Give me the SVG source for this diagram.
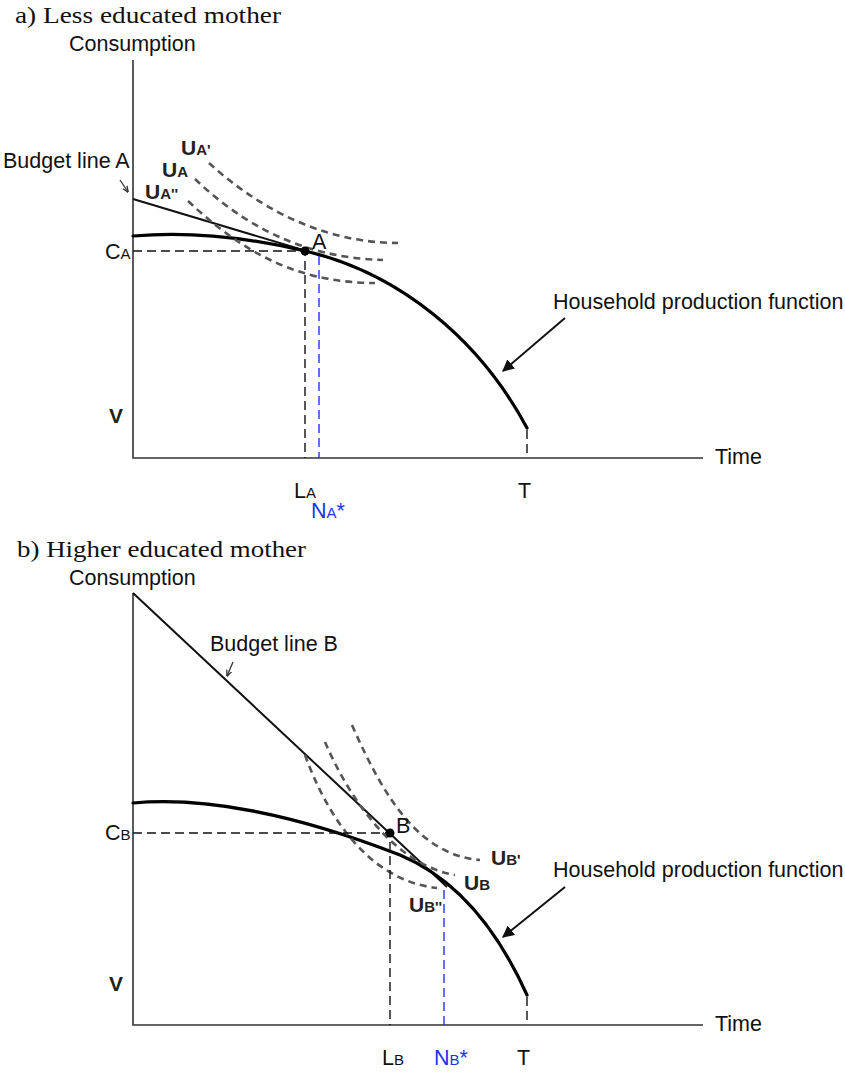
<svg xmlns="http://www.w3.org/2000/svg" width="845" height="1072" viewBox="0 0 845 1072">
<defs>
<style>
.t{font-family:"Liberation Sans",Arial,sans-serif;font-size:21.5px;fill:#111}
.ti{font-family:"Liberation Serif","Times New Roman",serif;font-size:24px;fill:#111}
.u{font-family:"Liberation Sans",Arial,sans-serif;font-size:21px;font-weight:bold;fill:#222}
.s{font-size:15px}
.blue{fill:#2335e8}
.ax{stroke:#333;stroke-width:1.6;fill:none}
.pf{stroke:#000;stroke-width:3.2;fill:none;stroke-linecap:round}
.bl{stroke:#111;stroke-width:2;fill:none}
.ic{stroke:#555;stroke-width:2.6;fill:none;stroke-dasharray:7,5}
.dk{stroke:#111;stroke-width:1.4;fill:none;stroke-dasharray:9,5}
.db{stroke:#2335e8;stroke-width:1.4;fill:none;stroke-dasharray:9,5}
.ar{stroke:#111;stroke-width:2;fill:none}
</style>
<marker id="ah" viewBox="0 0 10 10" refX="9" refY="5" markerWidth="6" markerHeight="6" orient="auto"><path d="M0,0 L10,5 L0,10 z" fill="#111"/></marker>
<marker id="ahs" viewBox="0 0 10 10" refX="9" refY="5" markerWidth="5" markerHeight="5" orient="auto"><path d="M0,1 L10,5 L0,9" fill="none" stroke="#333" stroke-width="2"/></marker>
</defs>
<rect width="845" height="1072" fill="#fff"/>

<g id="panel-a">
<text class="ti" x="15" y="23" textLength="266" lengthAdjust="spacingAndGlyphs">a) Less educated mother</text>
<text class="t" x="69" y="51">Consumption</text>
<path class="ax" d="M133,60 V458 H703"/>
<text class="t" x="715" y="464">Time</text>
<g id="budget-line-a">
<path class="bl" d="M133,199 L330,258"/>
<text class="t" x="3" y="168">Budget line A</text>
</g>
<g id="production-a">
<path class="pf" d="M133,236 C190,231 250,238 305,251 C400,273 480,340 527,428"/>
<text class="t" x="553" y="309">Household production function</text>
</g>
<g id="indiff-a">
<path class="ic" d="M209,163 C255,205 320,243 398,243"/>
<path class="ic" d="M195,179 C240,222 300,258 383,260"/>
<path class="ic" d="M188,201 C235,245 290,283 375,283"/>
<text class="u" x="181" y="155">U<tspan class="s">A'</tspan></text>
<text class="u" x="162" y="177">U<tspan class="s">A</tspan></text>
<text class="u" x="145" y="199">U<tspan class="s">A''</tspan></text>
</g>
<g id="point-a">
<path class="dk" d="M133,251 H305 V458"/>
<path class="db" d="M319,256 V458"/>
<circle cx="305" cy="251" r="4.5" fill="#000"/>
<text class="t" x="312" y="249">A</text>
<text class="t" x="105" y="259">C<tspan class="s">A</tspan></text>
</g>
<path class="dk" d="M527,430 V458"/>
<text class="u" x="109" y="423">V</text>
<text class="t" x="294" y="498">L<tspan class="s">A</tspan></text>
<text class="t blue" x="311" y="518">N<tspan class="s">A</tspan>*</text>
<text class="t" x="518" y="498">T</text>
</g>

<g id="panel-b">
<text class="ti" x="17" y="557" textLength="289" lengthAdjust="spacingAndGlyphs">b) Higher educated mother</text>
<text class="t" x="69" y="585">Consumption</text>
<path class="ax" d="M133,593 V1025 H703"/>
<text class="t" x="715" y="1031">Time</text>
<g id="budget-line-b">
<path class="bl" d="M133,593 L447,887"/>
<text class="t" x="210" y="651">Budget line B</text>
</g>
<g id="production-b">
<path class="pf" d="M133,803 C200,797 290,812 400,855 C460,880 500,935 527,995"/>
<text class="t" x="553" y="877">Household production function</text>
</g>
<g id="indiff-b">
<path class="ic" d="M352,725 C385,800 420,855 480,860"/>
<path class="ic" d="M325,742 C350,800 395,865 455,875"/>
<path class="ic" d="M305,755 C325,810 365,880 437,888"/>
<text class="u" x="491" y="865">U<tspan class="s">B'</tspan></text>
<text class="u" x="464" y="890">U<tspan class="s">B</tspan></text>
<text class="u" x="409" y="912">U<tspan class="s">B''</tspan></text>
</g>
<g id="point-b">
<path class="dk" d="M133,833 H390 V1025"/>
<path class="db" d="M444,890 V1025"/>
<circle cx="390" cy="833" r="4.5" fill="#000"/>
<text class="t" x="396" y="833">B</text>
<text class="t" x="105" y="840">C<tspan class="s">B</tspan></text>
</g>
<path class="dk" d="M527,997 V1025"/>
<text class="u" x="109" y="991">V</text>
<text class="t" x="382" y="1065">L<tspan class="s">B</tspan></text>
<text class="t blue" x="434" y="1065">N<tspan class="s">B</tspan>*</text>
<text class="t" x="517" y="1065">T</text>
</g>

<g id="connectors">
<path class="ar" d="M565,318 L503,371" marker-end="url(#ah)"/>
<path class="ar" d="M565,887 L503,937" marker-end="url(#ah)"/>
<path stroke="#333" stroke-width="1.3" fill="none" d="M120,180 L128,192" marker-end="url(#ahs)"/>
<path stroke="#333" stroke-width="1.3" fill="none" d="M233,662 L227,676" marker-end="url(#ahs)"/>
</g>
</svg>
